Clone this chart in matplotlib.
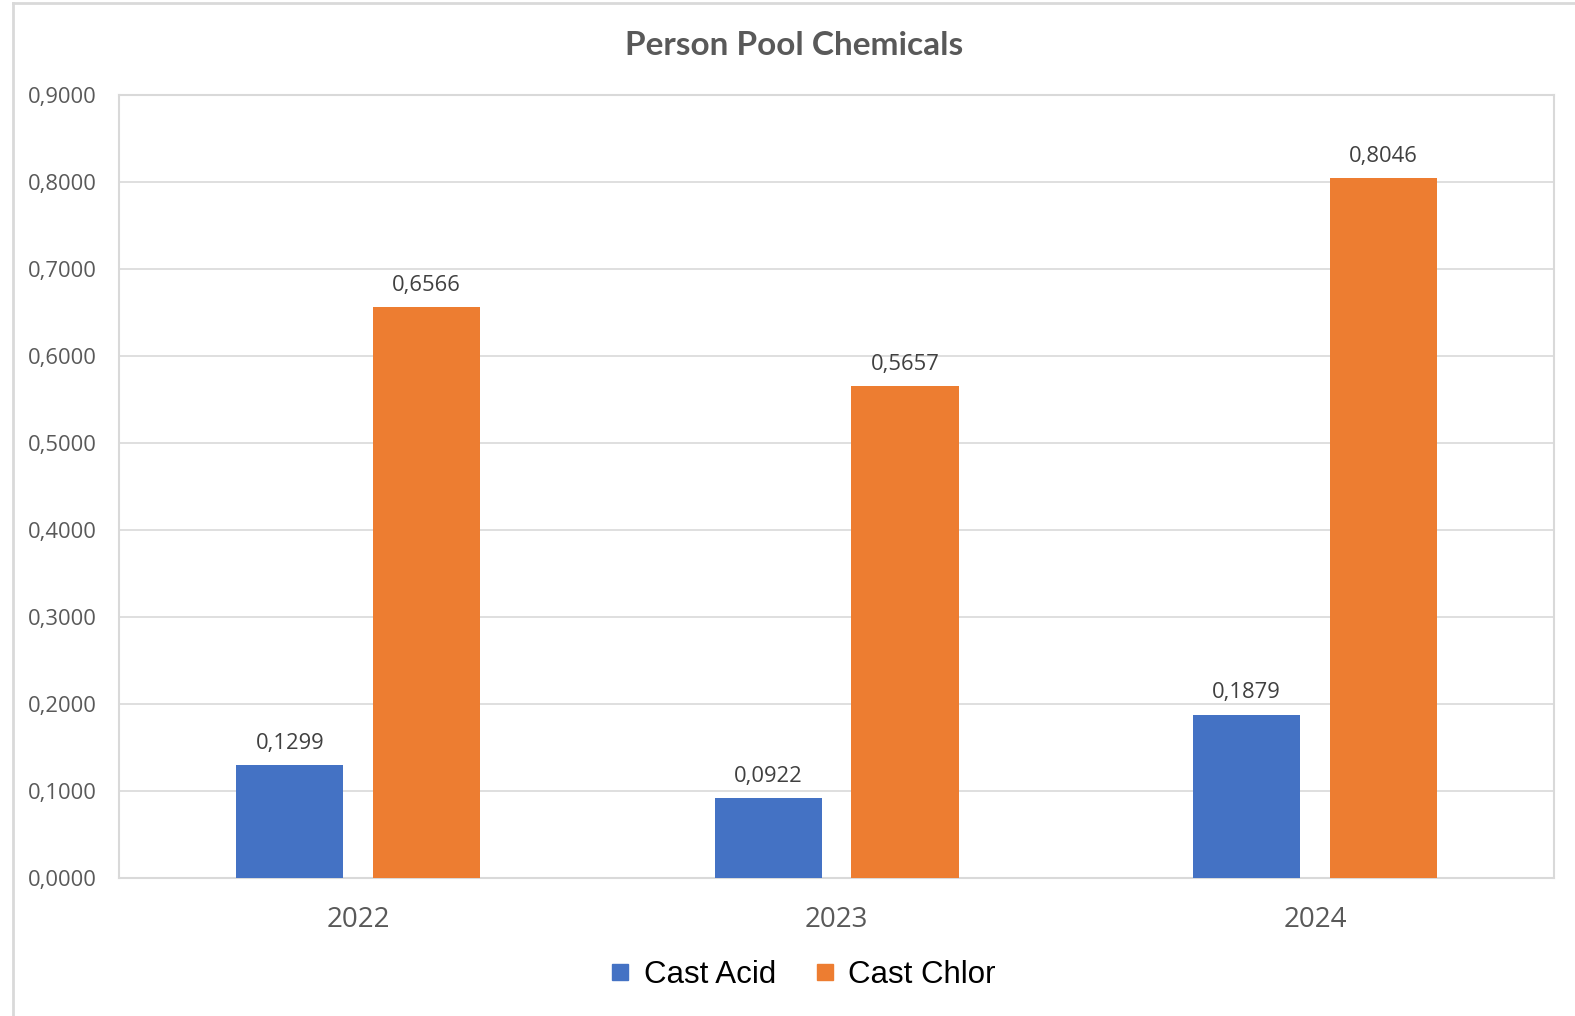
import numpy as np
import matplotlib
matplotlib.use("Agg")
import matplotlib.pyplot as plt
from matplotlib.lines import Line2D

years = ["2022", "2023", "2024"]
cast_acid = [0.1299, 0.0922, 0.1879]
cast_chlor = [0.6566, 0.5657, 0.8046]
series_names = ["Cast Acid", "Cast Chlor"]
y_ticks = [0.0, 0.1, 0.2, 0.3, 0.4, 0.5, 0.6, 0.7, 0.8, 0.9]

BLUE = "#4472C4"
ORANGE = "#ED7D31"
GRAY = "#595959"
GRID = "#D9D9D9"


def comma(v):
    return f"{v:.4f}".replace(".", ",")


fig = plt.figure(figsize=(15.75, 10.16), dpi=100)
ax = fig.add_axes([0.0756, 0.1358, 0.9111, 0.7707])

x = np.arange(len(years))
w = 0.224
off = 0.143
b1 = ax.bar(x - off, cast_acid, w, color=BLUE, zorder=3)
b2 = ax.bar(x + off, cast_chlor, w, color=ORANGE, zorder=3)

for bars, vals in ((b1, cast_acid), (b2, cast_chlor)):
    for rect, v in zip(bars, vals):
        ax.annotate(comma(v), (rect.get_x() + rect.get_width() / 2, v),
                    xytext=(0, 8), textcoords="offset points",
                    ha="center", va="bottom", fontsize=15.8,
                    family="Open Sans", color="#404040")

ax.set_xlim(-0.5, 2.5)
ax.set_ylim(0, 0.9)
ax.set_yticks(y_ticks)
ax.set_yticklabels([comma(v) for v in y_ticks], family="Open Sans",
                   fontsize=15.8, color=GRAY)
ax.set_xticks(x)
ax.set_xticklabels(years, family="Open Sans", fontsize=20, color=GRAY)
ax.tick_params(axis="both", length=0)
ax.tick_params(axis="y", pad=16)
ax.tick_params(axis="x", pad=20)
ax.grid(axis="y", color=GRID, linewidth=1.2, zorder=0)
for s in ax.spines.values():
    s.set_color(GRID)
    s.set_linewidth(1.5)

fig.text(0.5045, 0.955, "Person Pool Chemicals", ha="center", va="center",
         family="Lato", fontweight="bold", fontsize=24, color=GRAY)

handles = [Line2D([], [], marker="s", linestyle="none", markersize=12,
                  color=c) for c in (BLUE, ORANGE)]
fig.legend(handles, series_names, loc="center", bbox_to_anchor=(0.508, 0.04),
           ncol=2, frameon=False, prop={"family": "Liberation Sans", "size": 22.5},
           handletextpad=0.25, columnspacing=1.05, handlelength=1.0)

# outer chart frame (only top and left edges show in the picture)
fig.add_artist(Line2D([13 / 1575, 1.0], [1 - 3 / 1016] * 2, color=GRID,
                      linewidth=2, transform=fig.transFigure))
fig.add_artist(Line2D([13 / 1575] * 2, [0.0, 1 - 3 / 1016], color=GRID,
                      linewidth=2, transform=fig.transFigure))

fig.savefig("out.png", dpi=100)
